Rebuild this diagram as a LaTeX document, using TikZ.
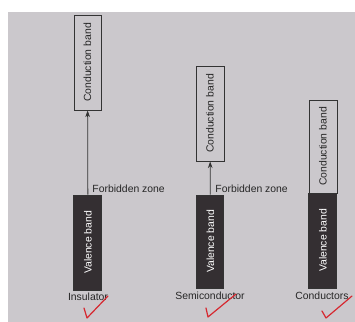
\documentclass[tikz,border=0pt]{standalone}
\usepackage{fontspec}
\setmainfont{Liberation Sans}
\usetikzlibrary{arrows.meta}
\definecolor{paper}{RGB}{203,200,204}
\definecolor{bandfill}{RGB}{52,47,50}
\definecolor{tick}{RGB}{214,40,48}
\tikzset{every picture/.style={line width=0.75pt}}

\begin{document}
\begin{tikzpicture}[x=0.75pt,y=0.75pt,yscale=-1,xscale=1,
	cband/.style={draw=black!80, line width=0.7pt, fill=none, rotate=90, inner sep=0pt, font=\fontsize{7.8}{9}\selectfont, text=black!85},
	vband/.style={draw=black!80, fill=bandfill, rotate=90, inner sep=0pt, font=\fontsize{7.8}{9}\selectfont, text=white!92},
	lbl/.style={inner sep=0.75pt, font=\fontsize{7.8}{9}\selectfont, text=black!85},
	gap/.style={draw=black!80, line width=0.6pt, -{Stealth[length=5pt,width=3.5pt]}},
	ok/.style={draw=tick, line width=0.9pt, line cap=round, line join=round}]
	\useasboundingbox (0,0) rectangle (355,322);
	%Background
	\fill [paper] (8,12) rectangle (355,322);

	%Insulator
	\node (cb1) [cband, minimum width=71.25pt, minimum height=20.25pt] at (87.5,62.5) {Conduction band};
	\node (vb1) [vband, minimum width=71.25pt, minimum height=21pt] at (88,242.5) {Valence band};
	\draw [gap] (vb1) -- (cb1);
	\node (fz1) [lbl, anchor=west] at (91,189) {Forbidden zone};
	\node (in1) [lbl] at (88,297) {Insulator};

	%Semiconductor
	\node (cb2) [cband, minimum width=71.25pt, minimum height=21pt] at (210,113.5) {Conduction band};
	\node (vb2) [vband, minimum width=69.75pt, minimum height=20.25pt] at (210.5,241.5) {Valence band};
	\draw [gap] (vb2) -- (cb2);
	\node (fz2) [lbl, anchor=west] at (214,189) {Forbidden zone};
	\node (sc2) [lbl] at (210,296) {Semiconductor};

	%Conductors
	\node (cb3) [cband, minimum width=69.75pt, minimum height=21pt] at (323,146.5) {Conduction band};
	\node (vb3) [vband, minimum width=71.25pt, minimum height=21pt] at (323,240.5) {Valence band};
	\node (cd3) [lbl] at (322,296) {Conductors};

	%Ticks
	\draw [ok] (84,308) -- (87,318) -- (108,296);
	\draw [ok] (206,308) -- (208,317) -- (236,294);
	\draw [ok] (322,311) -- (326,318) -- (352,296);
\end{tikzpicture}
\end{document}
